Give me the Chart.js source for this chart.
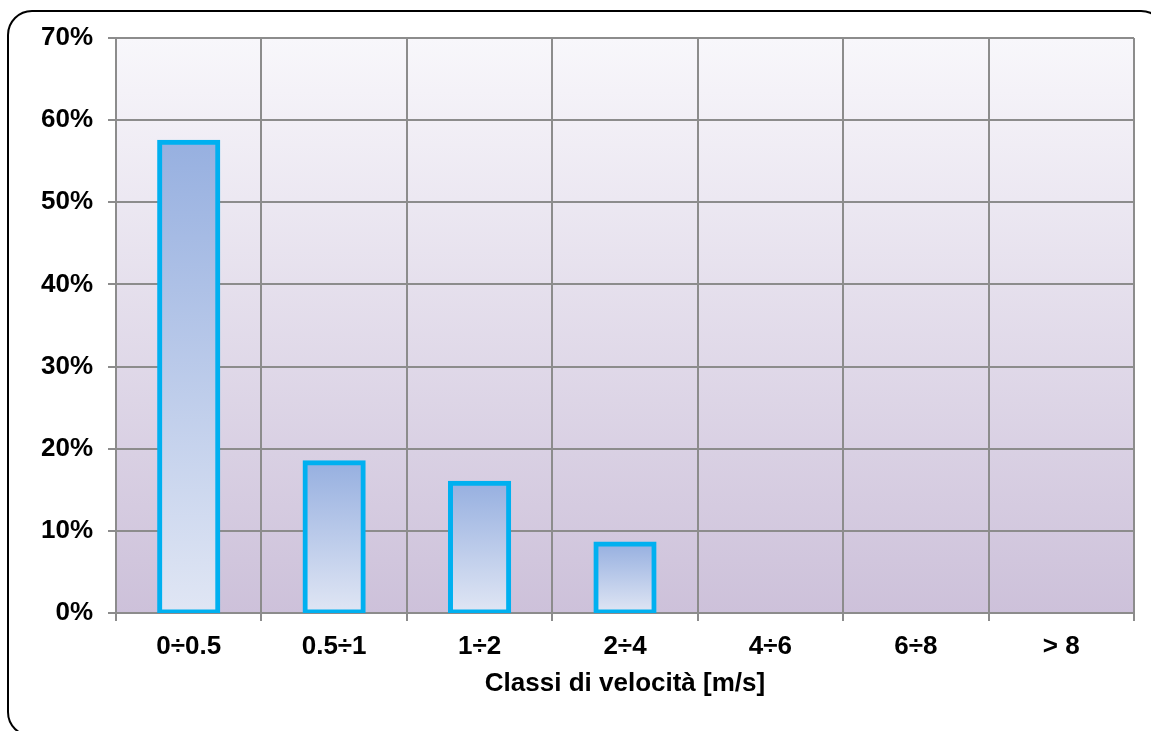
<!DOCTYPE html>
<html>
<head>
<meta charset="utf-8">
<script src="https://cdn.jsdelivr.net/npm/chart.js@4/dist/chart.umd.min.js"></script>
<style>
  html, body { margin: 0; padding: 0; background: #fff; overflow: hidden; }
  #wrap { position: relative; width: 1151px; height: 731px; }
  #frame {
    position: absolute; left: 7px; top: 10px; width: 1159px; height: 727px;
    box-sizing: border-box; border: 2px solid #000; border-radius: 25px;
    pointer-events: none;
  }
</style>
</head>
<body>
<div id="wrap">
  <canvas id="windChart" width="1151" height="731"></canvas>
  <div id="frame"></div>
</div>
<script>
// Classi di velocità del vento - frequenze
const categories = ['0÷0.5', '0.5÷1', '1÷2', '2÷4', '4÷6', '6÷8', '> 8'];
const frequencies = [57.3, 18.3, 15.8, 8.4, 0, 0, 0];
const yTicks = [0, 10, 20, 30, 40, 50, 60, 70];

const FONT = 'Arial, "Liberation Sans", sans-serif';

// sfondo sfumato dell'area del grafico
const plotBackground = {
    id: 'plotBackground',
    beforeDraw: function(chart) {
        const a = chart.chartArea;
        const c = chart.ctx;
        const g = c.createLinearGradient(0, a.top, 0, a.bottom);
        g.addColorStop(0, '#f8f7fb');
        g.addColorStop(1, '#cdc1da');
        c.save();
        c.fillStyle = g;
        c.fillRect(a.left, a.top, a.right - a.left, a.bottom - a.top);
        c.restore();
    }
};

function barGradient(context) {
    const chart = context.chart;
    if (!chart.chartArea || context.type !== 'data') return '#97b0e0';
    if (!context.raw) return 'rgba(0,0,0,0)';
    const y = chart.scales.y;
    const top = y.getPixelForValue(context.raw);
    const bottom = y.getPixelForValue(0);
    const g = chart.ctx.createLinearGradient(0, top, 0, bottom);
    g.addColorStop(0, '#97b0e0');
    g.addColorStop(1, '#e0e6f4');
    return g;
}

new Chart(document.getElementById('windChart'), {
    type: 'bar',
    data: {
        labels: categories,
        datasets: [{
            label: 'Frequenza',
            data: frequencies,
            backgroundColor: barGradient,
            borderColor: '#00b0f0',
            borderWidth: 5,
            borderSkipped: false,
            inflateAmount: 2.5,   // bordo centrato sul contorno, come in Excel
            barPercentage: 0.4,
            categoryPercentage: 1
        }]
    },
    options: {
        responsive: false,
        animation: false,
        layout: {
            padding: { left: 0, top: 38, right: 17, bottom: 0 }
        },
        plugins: {
            legend: { display: false },
            tooltip: { enabled: false }
        },
        scales: {
            x: {
                grid: { color: '#8c8c8c', lineWidth: 2, tickLength: 8 },
                border: { color: '#8c8c8c', width: 2 },
                ticks: {
                    color: '#000',
                    padding: 10,
                    font: { family: FONT, size: 26, weight: 'bold' }
                },
                title: {
                    display: true,
                    text: 'Classi di velocità [m/s]',
                    color: '#000',
                    font: { family: FONT, size: 26, weight: 'bold' },
                    padding: { top: 4, bottom: 32 }
                },
                afterFit: function(scale) { scale.height = 731 - 613; }
            },
            y: {
                min: 0,
                max: 70,
                grid: { color: '#8c8c8c', lineWidth: 2, tickLength: 8 },
                border: { color: '#8c8c8c', width: 2 },
                afterBuildTicks: function(scale) {
                    scale.ticks = yTicks.map(function(v) { return { value: v }; });
                },
                ticks: {
                    color: '#000',
                    padding: 15,
                    font: { family: FONT, size: 26, weight: 'bold' },
                    callback: function(v) { return v + '%'; }
                },
                afterFit: function(scale) { scale.width = 116; }
            }
        }
    },
    plugins: [plotBackground]
});
</script>
</body>
</html>
